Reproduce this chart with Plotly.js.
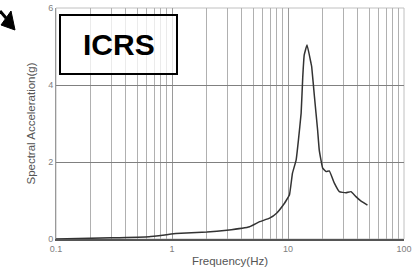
<!DOCTYPE html>
<html>
<head>
<meta charset="utf-8">
<script src="https://cdn.plot.ly/plotly-3.0.1.min.js"></script>
<style>html,body{margin:0;padding:0;background:#fff;}#chart{width:417px;height:270px;}</style>
</head>
<body>
<div id="chart"></div>
<script>
var freq = [0.1, 0.3, 0.635, 0.89, 1.08, 2.0, 2.97, 4.67, 5.7, 6.94, 7.97, 9.33, 9.65, 10.3, 10.93, 11.75, 12.3, 12.98, 13.4, 13.8, 14.6, 15.8, 16.0, 16.9, 18.0, 18.6, 19.9, 21.3, 22.7, 25.1, 27.7, 31.6, 34.9, 38.5, 42.4, 48.4];
var accel = [0.0, 0.03, 0.06, 0.11, 0.14, 0.18, 0.23, 0.32, 0.45, 0.54, 0.67, 0.93, 1.0, 1.15, 1.71, 2.05, 2.57, 3.27, 4.2, 4.78, 5.04, 4.56, 4.48, 3.7, 2.83, 2.31, 1.84, 1.75, 1.77, 1.45, 1.23, 1.2, 1.23, 1.1, 0.99, 0.88];
var xTickVals = [0.1, 1, 10, 100];
var xTickText = ['0.1', '1', '10', '100'];
var xMinorVals = [0.2,0.3,0.4,0.5,0.6,0.7,0.8,0.9,2,3,4,5,6,7,8,9,20,30,40,50,60,70,80,90];
var yTickVals = [0, 2, 4, 6];
var yTickText = ['0', '2', '4', '6'];
var xTitle = 'Frequency(Hz)';
var yTitle = 'Spectral Acceleration(g)';
var label = 'ICRS';

var trace = {
  x: freq, y: accel, type: 'scatter', mode: 'lines',
  line: {color: '#333333', width: 1.5, shape: 'spline', smoothing: 0.3},
  hoverinfo: 'skip'
};
var layout = {
  width: 417, height: 270,
  margin: {l: 56, r: 13, t: 8, b: 31},
  paper_bgcolor: '#ffffff', plot_bgcolor: '#ffffff',
  showlegend: false,
  font: {family: 'Liberation Sans, Arial, sans-serif', color: '#555555'},
  xaxis: {
    type: 'log', range: [-1, 2],
    tickmode: 'array', tickvals: xTickVals, ticktext: xTickText,
    tickfont: {size: 9, color: '#808080'}, ticks: '',
    showgrid: true, gridcolor: '#9a9a9a', gridwidth: 1,
    minor: {tickmode: 'array', tickvals: xMinorVals, showgrid: true, gridcolor: '#b0b0b0', gridwidth: 1, ticks: ''},
    showline: true, linecolor: '#555555', linewidth: 2, mirror: false,
    zeroline: false,
    title: {text: xTitle, font: {size: 11.5, color: '#555555'}, standoff: 4}
  },
  yaxis: {
    range: [0, 6],
    tickmode: 'array', tickvals: yTickVals, ticktext: yTickText,
    tickfont: {size: 9, color: '#808080'}, ticks: '',
    showgrid: true, gridcolor: '#808080', gridwidth: 1,
    showline: true, linecolor: '#999999', linewidth: 1,
    zeroline: false,
    title: {text: yTitle, font: {size: 11.5, color: '#555555'}, standoff: 10}
  },
  shapes: [
    {type: 'rect', xref: 'paper', yref: 'paper', x0: 0, x1: 1, y0: 0, y1: 1,
     line: {color: '#c0c0c0', width: 1}, layer: 'below'},
    {type: 'rect', xref: 'paper', yref: 'paper', x0: 0.0115, x1: 0.3477, y0: 0.714, y1: 0.970,
     line: {color: '#000000', width: 2}, fillcolor: 'rgba(255,255,255,0.75)', layer: 'above'},
    {type: 'path', xref: 'paper', yref: 'paper',
     path: 'M -0.1178 0.9048 L -0.1580 0.9264 L -0.1293 0.9870 Z',
     fillcolor: '#000000', line: {color: '#000000', width: 1}},
    {type: 'line', xref: 'paper', yref: 'paper', x0: -0.1437, y0: 0.9567, x1: -0.1609, y1: 0.9870,
     line: {color: '#000000', width: 3}}
  ],
  annotations: [
    {xref: 'paper', yref: 'paper', x: 0.18, y: 0.842, text: '<b>' + label + '</b>', showarrow: false,
     font: {size: 30, color: '#000000', family: 'Liberation Sans, Arial, sans-serif'}, xanchor: 'center', yanchor: 'middle'}
  ]
};
Plotly.newPlot('chart', [trace], layout, {staticPlot: true, displayModeBar: false});
</script>
</body>
</html>
